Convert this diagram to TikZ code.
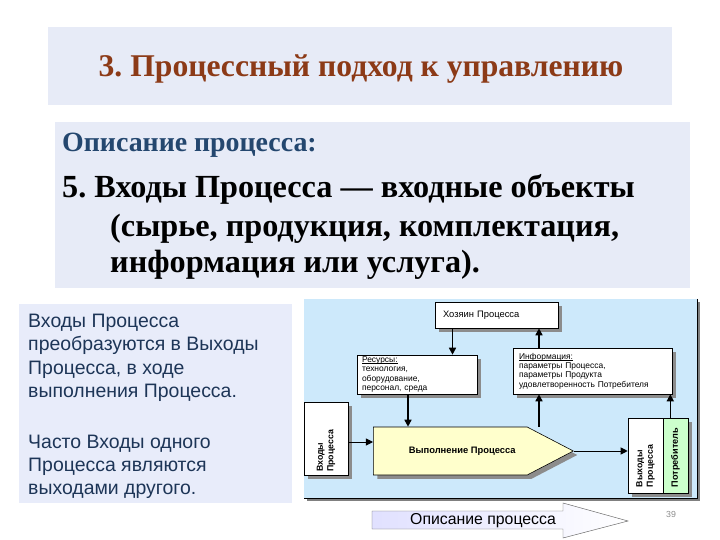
\documentclass[tikz,border=0pt]{standalone}
\usepackage{fontspec}
\setmainfont{Liberation Serif}
\setsansfont{Liberation Sans}
\usetikzlibrary{arrows.meta,calc,shapes.symbols,shadows}

\definecolor{titlered}{HTML}{8C3A17}
\definecolor{headblue}{HTML}{24476F}
\definecolor{slidebg}{HTML}{E7EBF7}
\definecolor{notebg}{HTML}{E8ECFA}
\definecolor{notetext}{HTML}{1D3557}
\definecolor{skyblue}{HTML}{CDE9FB}
\definecolor{paleyellow}{HTML}{FFFFCC}
\definecolor{palegreen}{HTML}{CCFFCC}

\newcommand{\pxu}{0.03cm}
\newcommand{\ulword}[1]{\setbox0\hbox{#1}\rlap{\rule[-1pt]{\wd0}{0.4pt}}#1}
\frenchspacing

\begin{document}
\begin{tikzpicture}[x=0.03cm, y=-0.03cm,
    card/.style = {draw=black, fill=white, line width=0.5pt, inner sep=0pt,
      drop shadow={shadow xshift=3.4pt, shadow yshift=-3.4pt, fill=black!45, opacity=1}},
    small/.style = {font=\sffamily\fontsize{7.2}{7.9}\selectfont, align=left},
    flow/.style = {-{Triangle[length=6pt, width=6pt]}, line width=1.3pt},
    thinflow/.style = {-{Triangle[length=6pt, width=6pt]}, line width=0.8pt}]
  \useasboundingbox (0,0) rectangle (720,540);

  % header of the slide
  \fill[slidebg] (48,27) rectangle (672,105);
  \node[anchor=base, text=titlered, font=\bfseries\fontsize{27}{30}\selectfont] (title) at (361,77) {3. Процессный подход к управлению};
  \fill[slidebg] (55,122) rectangle (690,288);
  \node[anchor=base west, inner sep=0pt, text=headblue, font=\bfseries\fontsize{23.8}{26}\selectfont] (sub) at (62,152) {Описание процесса:};
  \node[anchor=base west, inner sep=0pt, font=\bfseries\fontsize{27.5}{30}\selectfont] (item1) at (62,198) {5. Входы Процесса — входные объекты};
  \node[anchor=base west, inner sep=0pt, font=\bfseries\fontsize{27.5}{30}\selectfont] (item2) at (110,237) {(сырье, продукция, комплектация,};
  \node[anchor=base west, inner sep=0pt, font=\bfseries\fontsize{27.5}{30}\selectfont] (item3) at (110,273) {информация или услуга).};

  % note on the left
  \fill[notebg] (19,304) rectangle (292,503);
  \node[anchor=north west, inner sep=0pt, align=left, text=notetext, font=\sffamily\fontsize{16.6}{19.8}\selectfont] (note) at (28,314)
    {Входы Процесса\\преобразуются в Выходы\\Процесса, в ходе\\выполнения Процесса.\\[23.8pt]Часто Входы одного\\Процесса являются\\выходами другого.};

  % process scheme
  \fill[black!50] (307,302) rectangle (700,501);
  \fill[skyblue] (304,299) rectangle (697,498);
  \draw[line width=0.8pt] (697,299) -- (697,498) -- (304,498);

  \node[card, small, font=\sffamily\fontsize{8}{9}\selectfont, minimum width=123*\pxu, minimum height=26*\pxu, text width=107*\pxu] (host) at (496.5,315) {Хозяин Процесса};
  \node[card, small, minimum width=120*\pxu, minimum height=39*\pxu, text width=110*\pxu] (res) at (417,374.5)
    {\ulword{Ресурсы:}\\технология,\\оборудование,\\персонал, среда};
  \node[card, small, minimum width=159*\pxu, minimum height=46*\pxu, text width=147*\pxu] (info) at (592.5,371)
    {\ulword{Информация:}\\параметры Процесса,\\параметры Продукта\\удовлетворенность Потребителя};
  \node[card, minimum width=44*\pxu, minimum height=73*\pxu] (ins) at (326,438.5)
    {\rotatebox{90}{\parbox{2.0cm}{\raggedright\sffamily\bfseries\fontsize{7.5}{8.8}\selectfont Входы\\Процесса}}};
  \node[card, fill=paleyellow, signal, signal to=east, signal pointer angle=55, minimum width=200*\pxu, minimum height=48*\pxu,
    anchor=west, font=\sffamily\bfseries\fontsize{8}{9}\selectfont] (exec) at (373,451) {\hspace*{0.72cm}Выполнение Процесса};
  \node[card, minimum width=35*\pxu, minimum height=75*\pxu] (outs) at (645.5,455.5)
    {\rotatebox{90}{\parbox{1.89cm}{\raggedright\sffamily\bfseries\fontsize{7.5}{8.8}\selectfont Выходы\\Процесса}}};
  \node[card, fill=palegreen, minimum width=25*\pxu, minimum height=75*\pxu] (cons) at (675.5,455.5)
    {\rotatebox{90}{\parbox{1.89cm}{\raggedright\sffamily\bfseries\fontsize{7.8}{8.8}\selectfont Потребитель}}};

  \draw[flow] ($(host.south)+(-44,0)$) coordinate (h1) -- (h1 |- res.north);
  \draw[flow] ($(res.south)+(-9,0)$) coordinate (r1) -- (r1 |- exec.north);
  \coordinate (i1) at ($(info.south)+(-53.5,0)$);
  \draw[flow] (i1 |- exec.north) -- (i1);
  \draw[flow] (i1 |- info.north) -- (i1 |- host.south);
  \coordinate (i2) at ($(info.south east)+(-2,0)$);
  \draw[flow] (i2 |- cons.north) -- (i2);
  \draw[thinflow] ($(ins.east)+(0,3.5)$) coordinate (a1) -- (a1 -| exec.west);
  \draw[thinflow] (exec.east) -- (exec.east -| outs.west);

  % arrow under the scheme
  \draw[draw=black!60, left color=blue!12, right color=white] (372,511) -- (563,511) -- (563,503) -- (628,521) -- (563,538) -- (563,529) -- (372,529) -- cycle;
  \node[font=\sffamily\fontsize{13.5}{15}\selectfont] (desc) at (483,521) {Описание процесса};
  \node[text=black!45, font=\sffamily\fontsize{7.5}{9}\selectfont] (page) at (671,514) {39};
\end{tikzpicture}
\end{document}
